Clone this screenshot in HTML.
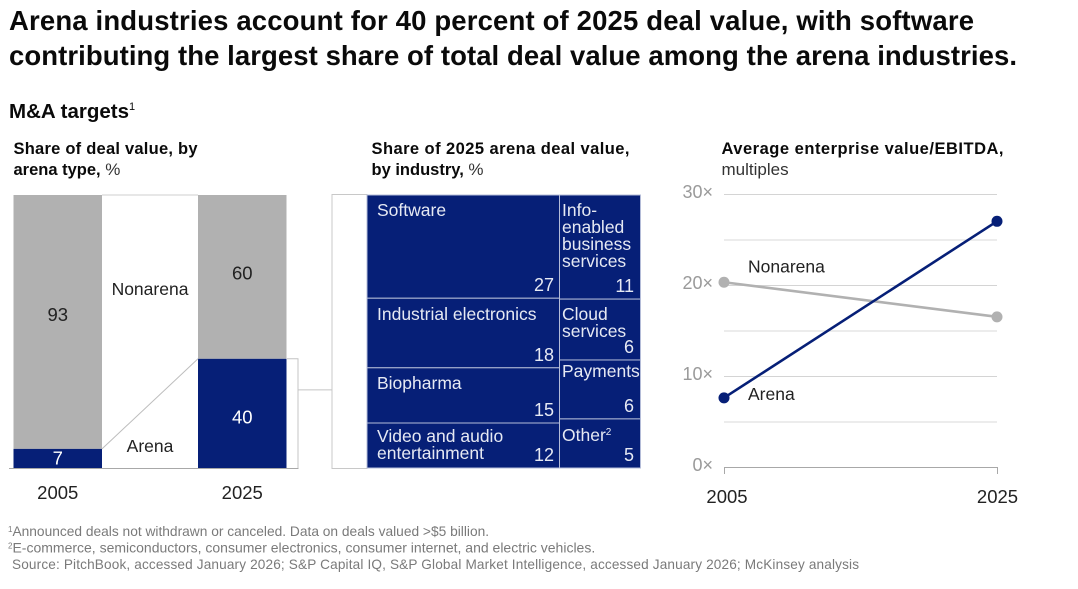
<!DOCTYPE html>
<html lang="en">
<head>
<meta charset="utf-8">
<title>Arena industries deal value</title>
<style>
html,body{margin:0;padding:0;background:#fff;width:1078px;height:589px;overflow:hidden}
svg{display:block;font-family:"Liberation Sans",sans-serif}
text{white-space:pre}
.title{font-size:27.5px;font-weight:700;fill:#0a0a0a}
.sub{font-size:20.5px;font-weight:700;fill:#0a0a0a}
.head{font-size:16.5px;font-weight:700;fill:#0a0a0a}
.unit{font-size:17px;font-weight:400;fill:#333}
.foot{font-size:14px;fill:#7a7a7a}
</style>
</head>
<body>
<svg id="chart" width="1078" height="589" viewBox="0 0 1078 589" xmlns="http://www.w3.org/2000/svg">
  <text class="title" x="9" y="30" textLength="965">Arena industries account for 40 percent of 2025 deal value, with software</text>
  <text class="title" x="9" y="65" textLength="1008">contributing the largest share of total deal value among the arena industries.</text>
  <text class="sub" x="9" y="118">M&amp;A targets<tspan font-size="11" dy="-8" font-weight="400">1</tspan></text>

  <text class="head" x="13.5" y="154" textLength="184">Share of deal value, by</text>
  <text class="head" x="13.5" y="175">arena type, <tspan class="unit">%</tspan></text>

  <text class="head" x="371.5" y="154" textLength="258">Share of 2025 arena deal value,</text>
  <text class="head" x="371.5" y="175">by industry, <tspan class="unit">%</tspan></text>

  <text class="head" x="721.5" y="154" textLength="282">Average enterprise value/EBITDA,</text>
  <text class="unit" x="721.5" y="175">multiples</text>

  <g id="bars"></g>
  <g id="treemap"></g>
  <g id="lines"></g>

  <text class="foot" x="8" y="536" style="font-size:13.75px"><tspan font-size="8" dy="-4">1</tspan><tspan dy="4">Announced deals not withdrawn or canceled. Data on deals valued &gt;$5 billion.</tspan></text>
  <text class="foot" x="8" y="552.5"><tspan font-size="8" dy="-4">2</tspan><tspan dy="4">E-commerce, semiconductors, consumer electronics, consumer internet, and electric vehicles.</tspan></text>
  <text class="foot" x="12" y="569" textLength="847" style="font-size:13.6px">Source: PitchBook, accessed January 2026; S&amp;P Capital IQ, S&amp;P Global Market Intelligence, accessed January 2026; McKinsey analysis</text>
</svg>
<script>
// Stacked bars
const barYears = ['2005', '2025'];
const arenaShare = [7, 40];
const nonarenaShare = [93, 60];

// Treemap (areas; printed labels are the rounded values)
const leftIndustries = [['Software'], ['Industrial electronics'], ['Biopharma'], ['Video and audio', 'entertainment']];
const leftValues = [27.3, 18.4, 14.6, 11.9];
const rightIndustries = [['Info-', 'enabled', 'business', 'services'], ['Cloud', 'services'], ['Payments'], ['Other']];
const rightValues = [10.6, 6.2, 6.0, 5.0];

// Line chart
const lineYears = ['2005', '2025'];
const arenaMultiples = [7.6, 27];
const nonarenaMultiples = [20.3, 16.5];
const multipleTicks = [0, 5, 10, 15, 20, 25, 30];
const labelledTicks = [0, 10, 20, 30];

const NAVY = '#061f77';
const GREY = '#b1b1b1';
const NS = 'http://www.w3.org/2000/svg';

function make(parent, tag, attrs, content) {
  const el = document.createElementNS(NS, tag);
  for (const k in attrs) el.setAttribute(k, attrs[k]);
  if (content !== undefined) el.textContent = content;
  parent.appendChild(el);
  return el;
}

/* ---------- Stacked bars ---------- */
(function () {
  const g = document.getElementById('bars');
  const top = 195, bottom = 468, barW = 88.5;
  const barX = [13.5, 198];
  const nudgeNon = [-1, 2.5];
  const nudgeArena = [6, 10];
  const yScale = v => bottom - (v / 100) * (bottom - top);

  const topLink = make(g, 'line', {x1: barX[0] + barW, x2: barX[1], y1: top, y2: top, stroke: '#cfcfcf', 'stroke-width': 1});
  
  

  barYears.forEach((year, i) => {
    const x = barX[i];
    const yA = yScale(arenaShare[i]);
    const yN = yScale(arenaShare[i] + nonarenaShare[i]);

    const nRect = make(g, 'rect', {x: x, y: yN, width: barW, height: yA - yN, fill: GREY});
    
    

    const aRect = make(g, 'rect', {x: x, y: yA, width: barW, height: bottom - yA, fill: NAVY});
    
    

    const nVal = make(g, 'text', {x: x + barW / 2, y: (yN + yA) / 2 + nudgeNon[i], 'text-anchor': 'middle', 'font-size': 18.5, fill: '#222'}, nonarenaShare[i]);
    
    

    const aVal = make(g, 'text', {x: x + barW / 2, y: (yA + bottom) / 2 + nudgeArena[i], 'text-anchor': 'middle', 'font-size': 18.5, fill: '#fff'}, arenaShare[i]);
    
    

    const yr = make(g, 'text', {x: x + barW / 2, y: 499, 'text-anchor': 'middle', 'font-size': 18.5, fill: '#222'}, year);
    
    
  });

  const yA0 = yScale(arenaShare[0]), yA1 = yScale(arenaShare[1]);

  const diag = make(g, 'line', {x1: barX[0] + barW, y1: yA0, x2: barX[1], y2: yA1, stroke: '#bdbdbd', 'stroke-width': 1});
  
  

  const base = make(g, 'line', {x1: 9, x2: 298.5, y1: bottom + 0.5, y2: bottom + 0.5, stroke: '#a8a8a8', 'stroke-width': 1});
  
  

  const bracket = make(g, 'polyline', {points: [287, yA1, 298, yA1, 298, bottom].join(' '), fill: 'none', stroke: '#c4c4c4', 'stroke-width': 1});
  
  

  const link = make(g, 'line', {x1: 298, x2: 332, y1: (yA1 + bottom) / 2 - 23.5, y2: (yA1 + bottom) / 2 - 23.5, stroke: '#c4c4c4', 'stroke-width': 1});
  
  

  const nl = make(g, 'text', {x: 150, y: 295, 'text-anchor': 'middle', 'font-size': 17.5, fill: '#222'}, 'Nonarena');
  
  

  const al = make(g, 'text', {x: 150, y: 452, 'text-anchor': 'middle', 'font-size': 17.5, fill: '#222'}, 'Arena');
  
  
})();

/* ---------- Treemap ---------- */
(function () {
  const g = document.getElementById('treemap');
  const top = 195, bottom = 468, boxX = 332, left = 367, split = 559.5, right = 640.5;

  const box = make(g, 'rect', {x: boxX, y: top - 0.5, width: left - boxX, height: bottom - top + 1, fill: '#fff', stroke: '#c8c8c8', 'stroke-width': 1});
  
  

  function column(names, values, x0, x1, textX, numX, labelOffsets) {
    const total = values.reduce((a, b) => a + b, 0);
    let y = top;
    values.forEach((v, i) => {
      const h = (v / total) * (bottom - top);
      const slug = names[i].join('-').toLowerCase().replace(/[^a-z]+/g, '-');

      const cell = make(g, 'rect', {x: x0, y: y, width: x1 - x0, height: h, fill: NAVY, stroke: '#b4bcd8', 'stroke-width': 1});
      
      

      const label = make(g, 'text', {x: textX, y: y + labelOffsets[i], 'font-size': 17.5, fill: '#e6e9f3'});
      
      
      names[i].forEach((line, j) => {
        const ts = make(label, 'tspan', {x: textX, dy: j ? 17 : 0}, line);
        
        
      });
      if (names[i][0] === 'Other') {
        const sup = make(label, 'tspan', {'font-size': 10, dy: -6}, '2');
        
        
      }

      const num = make(g, 'text', {x: numX, y: y + h - 7, 'text-anchor': 'end', 'font-size': 18, fill: '#e6e9f3'}, Math.round(v));
      
      

      y += h;
    });
  }

  column(leftIndustries, leftValues, left, split, 377, 554, [21, 22, 21, 19]);
  column(rightIndustries, rightValues, split, right, 562, 634, [21, 21, 17, 22]);
})();

/* ---------- Line chart ---------- */
(function () {
  const g = document.getElementById('lines');
  const x0 = 724, x1 = 997, yBottom = 467, yTop = 194, maxV = 30;
  const xScale = i => x0 + (i / (lineYears.length - 1)) * (x1 - x0);
  const yScale = v => yBottom - (v / maxV) * (yBottom - yTop);

  multipleTicks.forEach(t => {
    const y = yScale(t) + 0.5;
    const grid = make(g, 'line', {x1: x0, x2: x1, y1: y, y2: y, stroke: t === 0 ? '#a8a8a8' : (labelledTicks.includes(t) ? '#d4d4d4' : '#e6e6e6'), 'stroke-width': t === 0 || labelledTicks.includes(t) ? 1 : 1.4});
    
    
  });

  labelledTicks.forEach(t => {
    const lbl = make(g, 'text', {x: 713, y: yScale(t) + 4, 'text-anchor': 'end', 'font-size': 18, fill: '#9a9a9a'}, t + '×');
    
    
  });

  lineYears.forEach((year, i) => {
    const x = xScale(i);
    const tick = make(g, 'line', {x1: x + 0.5, x2: x + 0.5, y1: yBottom, y2: yBottom + 7, stroke: '#a8a8a8', 'stroke-width': 1});
    
    

    const lbl = make(g, 'text', {x: x + (i ? 0.5 : 3), y: 503, 'text-anchor': 'middle', 'font-size': 18.5, fill: '#222'}, year);
    
    
  });

  function series(values, color, name) {
    const pts = values.map((v, i) => xScale(i) + ',' + yScale(v)).join(' ');
    const line = make(g, 'polyline', {points: pts, fill: 'none', stroke: color, 'stroke-width': 2.6});
    
    
    values.forEach((v, i) => {
      const dot = make(g, 'circle', {cx: xScale(i), cy: yScale(v), r: 5.5, fill: color});
      
      
    });
  }
  series(nonarenaMultiples, GREY, 'nonarena');
  series(arenaMultiples, NAVY, 'arena');

  const nl = make(g, 'text', {x: 748, y: yScale(nonarenaMultiples[0]) - 10, 'font-size': 17.5, fill: '#222'}, 'Nonarena');
  
  

  const al = make(g, 'text', {x: 748, y: yScale(arenaMultiples[0]) + 2, 'font-size': 17.5, fill: '#222'}, 'Arena');
  
  
})();
</script>
</body>
</html>
